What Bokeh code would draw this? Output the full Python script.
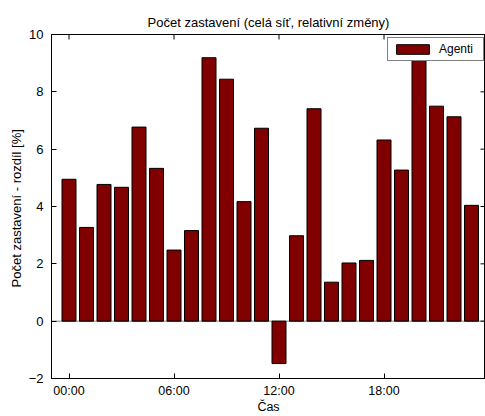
import math
from bokeh.plotting import figure
from bokeh.models import (Range1d, FixedTicker, Span, Legend, LegendItem,
                          ColumnDataSource)
from bokeh.embed import file_html
from bokeh.resources import INLINE

hours = list(range(24))
values = [4.95, 3.27, 4.77, 4.67, 6.77, 5.33, 2.48, 3.16, 9.19, 8.44, 4.17, 6.73,
          -1.48, 2.98, 7.41, 1.36, 2.03, 2.12, 6.32, 5.27, 9.40, 7.50, 7.13, 4.04]
x_tick_pos = [0, 6, 12, 18]
x_tick_labels = ["00:00", "06:00", "12:00", "18:00"]
y_ticks = [-2, 0, 2, 4, 6, 8, 10]

title_text = "Počet zastavení (celá síť, relativní změny)"
x_label = "Čas"
y_label = "Počet zastavení  - rozdíl [%]"
series_name = "Agenti"

FONT = "Liberation Sans"
FS = "13px"

src = ColumnDataSource(dict(hour=hours, value=values))

p = figure(width=485, height=416, output_backend="svg", toolbar_location=None,
           x_range=Range1d(-1, 23.8), y_range=Range1d(-2, 10),
           min_border_left=51, min_border_right=0, min_border_top=34,
           min_border_bottom=36)

p.title.text = title_text
p.title.align = "center"
p.title.text_font = FONT
p.title.text_font_size = "13px"
p.title.text_font_style = "normal"
p.title.text_color = "black"
p.title.standoff = 10

p.xgrid.visible = False
p.ygrid.visible = False
p.outline_line_color = "black"
p.outline_line_width = 1
p.background_fill_color = "white"
p.border_fill_color = "white"

r = p.vbar(x="hour", top="value", bottom=0, width=0.8, source=src,
           fill_color="#800000", line_color="black", line_width=1)

p.add_layout(Span(location=0, dimension="width", line_color="black",
                  line_dash="1 1", line_width=1))

# inward tick marks on the top and right edges of the box
p.ray(x=x_tick_pos, y=[p.y_range.end] * len(x_tick_pos), length=5,
      length_units="screen", angle=-math.pi / 2, line_color="black",
      line_width=1)
p.ray(x=[p.x_range.end] * len(y_ticks), y=y_ticks, length=5,
      length_units="screen", angle=math.pi, line_color="black", line_width=1)

def style(ax, fs):
    ax.axis_line_color = "black"
    ax.major_tick_line_color = "black"
    ax.major_tick_in = 5
    ax.major_tick_out = 0
    ax.minor_tick_line_color = None
    ax.major_label_text_font = FONT
    ax.major_label_text_font_size = fs
    ax.major_label_text_color = "black"
    ax.axis_label_text_font = FONT
    ax.axis_label_text_font_size = fs
    ax.axis_label_text_font_style = "normal"
    ax.axis_label_text_color = "black"

p.xaxis.ticker = FixedTicker(ticks=x_tick_pos)
p.xaxis.major_label_overrides = {t: l for t, l in zip(x_tick_pos, x_tick_labels)}
p.xaxis.axis_label = x_label
p.xaxis.axis_label_standoff = -1
p.xaxis.major_label_standoff = 5
style(p.xaxis[0], "12.5px")

p.yaxis.ticker = FixedTicker(ticks=y_ticks)
p.yaxis.axis_label = y_label
p.yaxis.axis_label_standoff = 2
p.yaxis.major_label_standoff = 8
style(p.yaxis[0], FS)

legend = Legend(items=[LegendItem(label=series_name, renderers=[r])],
                location=(336, 317))
legend.border_line_color = "black"
legend.border_line_width = 1
legend.background_fill_color = "white"
legend.background_fill_alpha = 1
legend.glyph_width = 41
legend.glyph_height = 12
legend.label_height = 12
legend.label_width = 40
legend.label_text_font = FONT
legend.label_text_font_size = "12px"
legend.label_text_color = "black"
legend.label_standoff = 6
legend.padding = 4
legend.margin = 0
legend.spacing = 0
p.add_layout(legend)

open("out.html", "w").write(file_html(p, INLINE))
